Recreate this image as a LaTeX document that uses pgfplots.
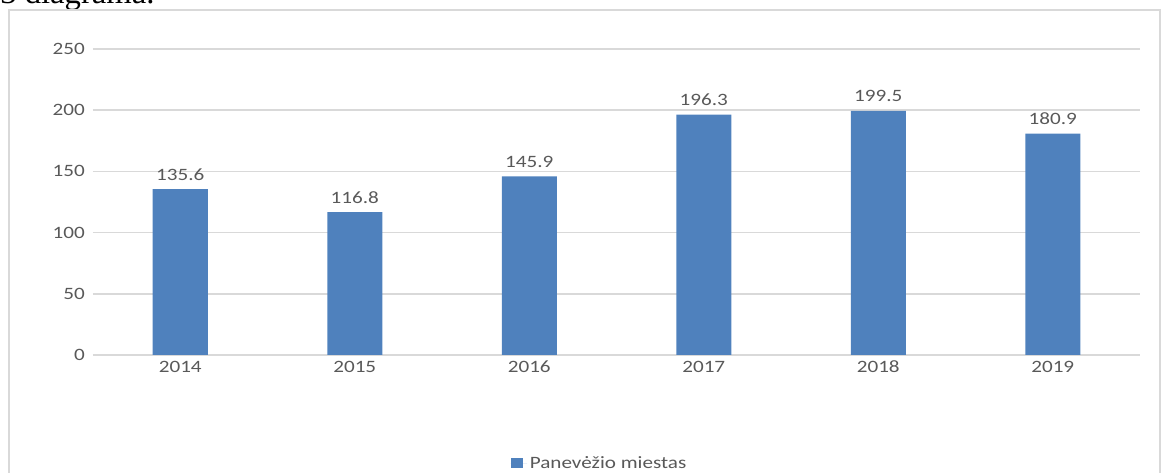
\documentclass[border=0pt]{standalone}
\usepackage{fontspec}
\setmainfont{Carlito}[FakeStretch=1.22]
\newfontfamily\serifcap{Liberation Serif}
\usepackage{pgfplots}
\pgfplotsset{compat=1.18}
\definecolor{barblue}{HTML}{4F81BD}
\definecolor{gridgray}{HTML}{D9D9D9}
\definecolor{txtgray}{HTML}{595959}

\begin{document}
\begin{tikzpicture}
% page = 1168 x 473 px, 1 px = 0.75pt, origin at the plot's lower left corner
\useasboundingbox (-69.75pt,-88.5pt) rectangle (806.25pt,266.25pt);
\node[anchor=base west, inner sep=0pt, font=\serifcap\fontsize{24.5}{28}\selectfont]
  at (-69.75pt,263.25pt) {3 diagrama.};
\draw[gridgray, line width=1.1pt]
  (-63pt,-100pt) -- (-63pt,258.75pt) -- (800.25pt,258.75pt) -- (800.25pt,-100pt);

\begin{axis}[
  at={(0pt,0pt)}, anchor=south west,
  scale only axis,
  width=785.25pt, height=229.5pt,
  ybar, bar width=41.25pt,
  xmin=-0.5, xmax=5.5,
  ymin=0, ymax=250,
  ytick={0,50,...,250},
  xtick=data,
  xticklabels={2014,2015,2016,2017,2018,2019},
  axis line style={draw=none},
  ymajorgrids,
  grid style={gridgray, line width=1.1pt},
  major tick length=0pt,
  /pgf/number format/assume math mode=true,
  tick label style={font=\fontsize{13}{15}\selectfont, text=txtgray},
  yticklabel style={anchor=east, inner sep=0pt, xshift=-6pt},
  xticklabel style={anchor=base, inner sep=0pt, yshift=-13.5pt},
  nodes near coords={\pgfmathprintnumber[fixed,fixed zerofill,precision=1]{\pgfplotspointmeta}},
  every node near coord/.append style={font=\fontsize{13}{15}\selectfont, text=txtgray,
    anchor=base, inner sep=0pt, yshift=6.75pt},
  legend style={at={(0.484,-0.353)}, anchor=center, draw=none, fill=none,
    font=\fontsize{13}{15}\selectfont, text=txtgray},
  legend image code/.code={\fill[barblue] (0pt,-4pt) rectangle (9pt,4pt);
    \path (0pt,0pt) -- (12.5pt,0pt);},
]
\addplot[fill=barblue, draw=none] coordinates {
  (0,135.6) (1,116.8) (2,145.9) (3,196.3) (4,199.5) (5,180.9)};
\legend{Panevėžio miestas}
\end{axis}
\end{tikzpicture}
\end{document}
